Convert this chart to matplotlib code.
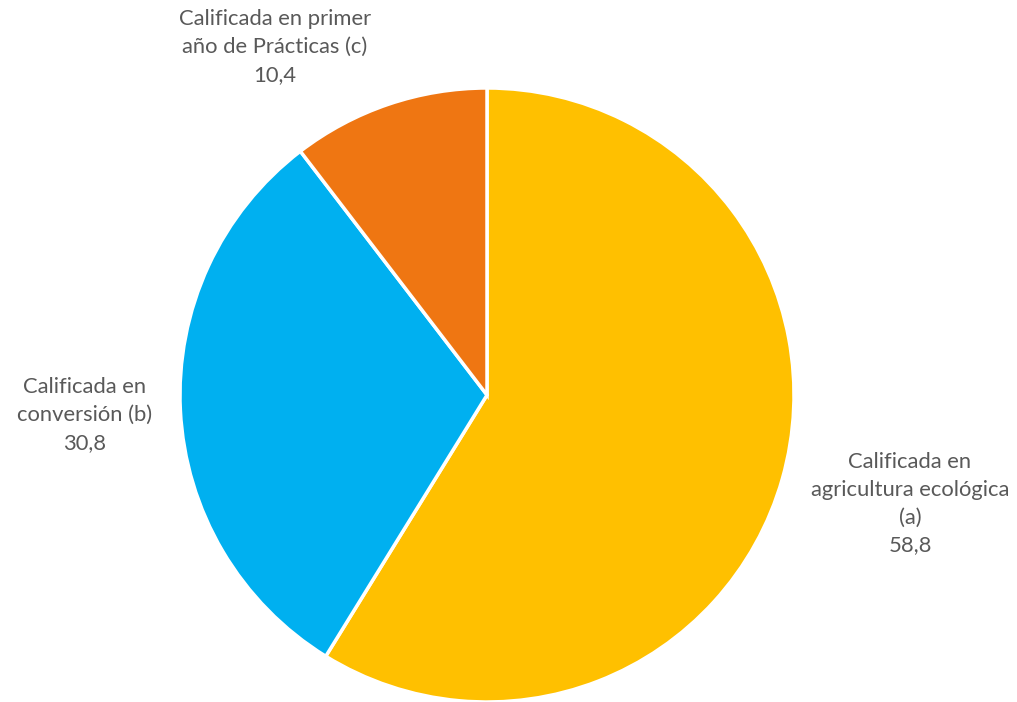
import matplotlib
matplotlib.use("Agg")
import matplotlib.pyplot as plt

categories = ["Calificada en\nagricultura ecológica\n(a)",
              "Calificada en\nconversión (b)",
              "Calificada en primer\naño de Prácticas (c)"]
values = [58.8, 30.8, 10.4]
value_labels = ["58,8", "30,8", "10,4"]
colors = ["#FFC000", "#00B0F0", "#EF7612"]

W, H = 1017, 702
fig = plt.figure(figsize=(W / 100, H / 100), dpi=100)
cx, cy, r = 487, 395, 307
ax = fig.add_axes([(cx - r) / W, (H - cy - r) / H, 2 * r / W, 2 * r / H])
ax.pie(values, colors=colors, startangle=90, counterclock=False,
       wedgeprops=dict(edgecolor="white", linewidth=2.5))
ax.set_xlim(-1, 1)
ax.set_ylim(-1, 1)
ax.set_aspect("equal")
ax.axis("off")

label_px = [(910, 504), (85, 415), (275, 47)]
for cat, val, (px, py) in zip(categories, value_labels, label_px):
    ax.text((px - cx) / r, (cy - py) / r, cat + "\n" + val, ha="center", va="center",
            fontsize=15.8, color="#595959", family="Lato", linespacing=1.48,
            clip_on=False)

fig.savefig("out.png", dpi=100)
